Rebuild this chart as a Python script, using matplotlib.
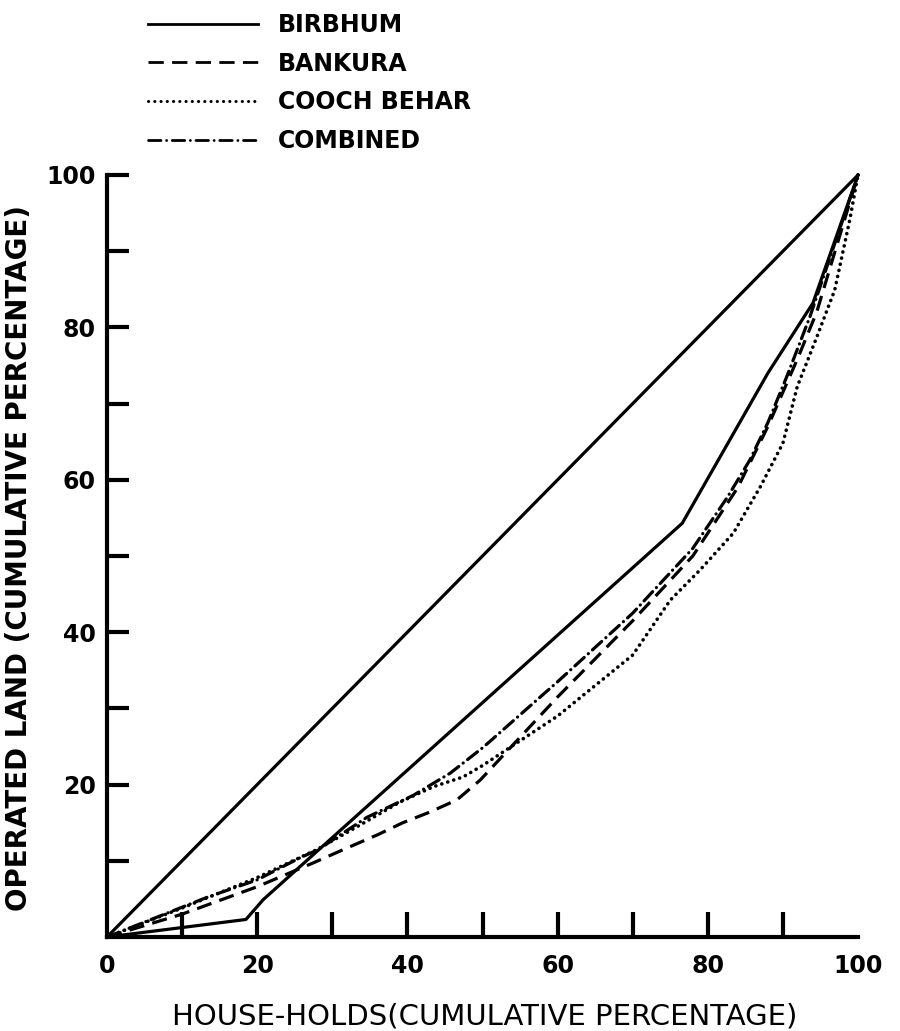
import numpy as np
import matplotlib
matplotlib.use("Agg")
import matplotlib.pyplot as plt
from matplotlib.lines import Line2D

plt.rcParams['font.family'] = ['DejaVu Sans']
plt.rcParams['lines.scale_dashes'] = False

# cumulative percentages (households, operated land)
birbhum_x = [0, 18.5, 20.8, 76.6, 88, 94, 100]
birbhum_y = [0, 2.3, 4.9, 54.3, 74, 83.2, 100]

bankura_x = [0, 10, 20, 27.4, 32, 36, 39.4, 43, 46.6, 49.7, 60, 70, 78, 84, 88, 92, 94.5, 100]
bankura_y = [0, 3.0, 6.6, 9.7, 11.7, 13.4, 15.0, 16.4, 18.0, 20.6, 31.5, 41.5, 50, 59, 67, 76, 82, 100]

cooch_x = [0, 10, 20, 28, 33.7, 39, 43.4, 47.4, 50, 60, 70, 75, 79, 83.4, 87, 90, 91.9, 94.5, 96.9, 98.9, 100]
cooch_y = [0, 3.8, 7.8, 11.5, 14.7, 17.7, 19.7, 21.0, 22.5, 29, 37, 44.2, 48.2, 53, 59.1, 64.8, 72.2, 78.7, 84.9, 94.1, 100]

combined_x = [0, 13.3, 20, 25.7, 28, 34.6, 40.8, 45.7, 50.1, 60, 70, 78, 82.6, 85.6, 88, 90.5, 93.6, 100]
combined_y = [0, 5.2, 7.5, 10.4, 11.4, 15.7, 18.6, 21.5, 24.9, 33.5, 42.5, 51, 57.7, 62.6, 67.5, 73.5, 81.4, 100]

names = ['BIRBHUM', 'BANKURA', 'COOCH BEHAR', 'COMBINED']
ticks_major = [0, 20, 40, 60, 80, 100]

W, H = 900, 1031
fig = plt.figure(figsize=(W / 100, H / 100), dpi=100)
ax = fig.add_axes([107 / W, 1 - 937 / H, (858 - 107) / W, (937 - 175) / H])
ax.set_xlim(0, 100)
ax.set_ylim(0, 100)

lw = 2.3
# line of equal distribution
ax.plot([0, 100], [0, 100], color='black', lw=lw, clip_on=False)

styles = [
    dict(linestyle='-'),
    dict(linestyle=(0, (11, 6))),
    dict(linestyle=(0, (0.1, 4.4)), dash_capstyle='round', lw=2.6),
    dict(linestyle=(0, (9, 4, 0.1, 4)), dash_capstyle='round'),
]
series = [(birbhum_x, birbhum_y), (bankura_x, bankura_y),
          (cooch_x, cooch_y), (combined_x, combined_y)]
for (xs, ys), st, name in zip(series, styles, names):
    kw = dict(color='black', lw=lw)
    kw.update(st)
    ax.plot(xs, ys, clip_on=False, label=name, **kw)

for s in ['top', 'right']:
    ax.spines[s].set_visible(False)
for s in ['left', 'bottom']:
    ax.spines[s].set_linewidth(3)

ax.set_xticks(ticks_major)
ax.set_yticks(ticks_major[1:])
ax.set_xticks(np.arange(10, 100, 10), minor=True)
ax.set_yticks(np.arange(10, 100, 10), minor=True)
ax.set_yticklabels([str(t) for t in ticks_major[1:]])
ax.tick_params(axis='x', which='both', direction='in', length=18, width=3, pad=12)
ax.tick_params(axis='y', which='both', direction='in', length=16, width=3, pad=8)
ax.xaxis.get_major_ticks()[-1].tick1line.set_visible(False)
ax.xaxis.get_major_ticks()[0].tick1line.set_visible(False)
for lab in ax.get_xticklabels() + ax.get_yticklabels():
    lab.set_fontsize(17)
    lab.set_fontweight('bold')

fig.text(485 / W, 1 - 1017 / H, 'HOUSE-HOLDS(CUMULATIVE PERCENTAGE)',
         ha='center', va='center', fontsize=21)
fig.text(19 / W, 1 - 558 / H, 'OPERATED LAND (CUMULATIVE PERCENTAGE)',
         ha='center', va='center', rotation=90, fontsize=20, fontweight='bold')

leg_handles = []
for st in styles:
    kw = dict(color='black')
    kw.update(st)
    kw['lw'] = 2.2 if st.get('lw') else 2.0
    leg_handles.append(Line2D([], [], **kw))
fig.legend(leg_handles, names, loc='upper left',
           bbox_to_anchor=(148 / W, 1 - 13 / H), frameon=False,
           handlelength=4.66, handletextpad=0.85, labelspacing=0.62,
           borderpad=0, borderaxespad=0, prop=dict(size=17, weight='bold'))

fig.savefig('out.png', dpi=100, facecolor='white')
